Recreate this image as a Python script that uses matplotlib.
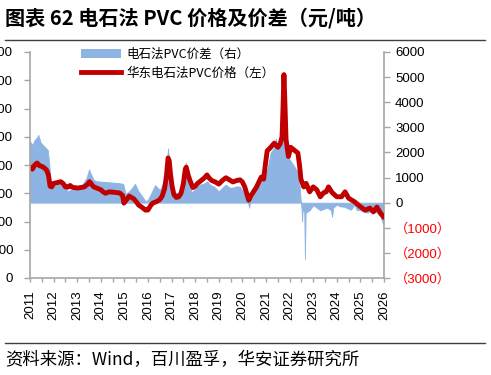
import matplotlib
matplotlib.use("Agg")
import matplotlib.pyplot as plt
from matplotlib.patches import Patch
from matplotlib.lines import Line2D
from matplotlib.ticker import FixedLocator, MultipleLocator

plt.rcParams['font.family'] = ['Liberation Sans', 'Noto Sans CJK SC', 'DejaVu Sans']

# ---- data ----
price_dates = [2011.00, 2011.10, 2011.20, 2011.30, 2011.40, 2011.50, 2011.60, 2011.70, 2011.78, 2011.85,
               2011.92, 2012.00, 2012.15, 2012.30, 2012.40, 2012.50, 2012.60, 2012.70, 2012.80, 2013.00,
               2013.15, 2013.30, 2013.45, 2013.52, 2013.60, 2013.70, 2013.85, 2014.00, 2014.10, 2014.20,
               2014.35, 2014.50, 2014.65, 2014.80, 2014.92, 2014.98, 2015.05, 2015.20, 2015.30, 2015.40,
               2015.50, 2015.60, 2015.75, 2015.90, 2016.00, 2016.10, 2016.20, 2016.35, 2016.50, 2016.60,
               2016.70, 2016.78, 2016.85, 2016.90, 2016.95, 2017.02, 2017.10, 2017.20, 2017.30, 2017.40,
               2017.50, 2017.58, 2017.62, 2017.70, 2017.78, 2017.90, 2018.00, 2018.10, 2018.25, 2018.40,
               2018.50, 2018.58, 2018.70, 2018.85, 2019.00, 2019.15, 2019.30, 2019.45, 2019.60, 2019.75,
               2019.90, 2020.00, 2020.10, 2020.20, 2020.27, 2020.35, 2020.45, 2020.60, 2020.70, 2020.80,
               2020.90, 2020.97, 2021.05, 2021.20, 2021.35, 2021.50, 2021.60, 2021.68, 2021.72, 2021.76,
               2021.80, 2021.85, 2021.95, 2022.05, 2022.20, 2022.35, 2022.42, 2022.48, 2022.60, 2022.70,
               2022.85, 2023.00, 2023.15, 2023.30, 2023.45, 2023.55, 2023.65, 2023.80, 2024.00, 2024.20,
               2024.35, 2024.50, 2024.75, 2025.00, 2025.20, 2025.40, 2025.55, 2025.70, 2025.85, 2025.97]
price = [7860, 7700, 8000, 8140, 7950, 7900, 7800, 7650, 7300, 6500,
         6450, 6700, 6750, 6820, 6700, 6450, 6430, 6550, 6420, 6370,
         6400, 6450, 6650, 6820, 6650, 6450, 6350, 6250, 6100, 6000,
         6100, 6080, 6050, 6020, 5850, 5300, 5450, 5800, 5700, 5600,
         5400, 5170, 5000, 4800, 4820, 5100, 5300, 5400, 5550, 5800,
         6300, 7200, 8500, 8300, 7400, 6500, 5900, 5700, 5750, 6000,
         6700, 7700, 7850, 7300, 6900, 6400, 6500, 6700, 6900, 7100,
         7300, 7100, 6900, 6800, 6650, 6900, 7100, 6950, 6800, 6900,
         6950, 6800, 6450, 5900, 5500, 5800, 6050, 6450, 6800, 7150,
         7000, 8000, 9000, 9250, 9550, 9250, 9500, 10000, 12000, 14400,
         12500, 9800, 8600, 9250, 9050, 8850, 8000, 7000, 6450, 6700,
         6100, 6450, 6250, 5750, 6050, 6100, 6450, 6050, 5750, 5750,
         6100, 5650, 5400, 5050, 4800, 4950, 4680, 5020, 4600, 4350]

spread_dates = [2011.00, 2011.10, 2011.20, 2011.30, 2011.35, 2011.45, 2011.60, 2011.75, 2011.82, 2011.88,
                2012.00, 2012.20, 2012.40, 2012.60, 2012.80, 2013.00, 2013.20, 2013.40, 2013.50, 2013.60,
                2013.70, 2013.85, 2014.00, 2014.25, 2014.50, 2014.75, 2014.95, 2015.05, 2015.25, 2015.45,
                2015.60, 2015.72, 2015.90, 2016.00, 2016.15, 2016.30, 2016.50, 2016.65, 2016.75, 2016.85,
                2016.92, 2017.00, 2017.08, 2017.15, 2017.30, 2017.45, 2017.60, 2017.70, 2017.85, 2018.00,
                2018.20, 2018.35, 2018.50, 2018.65, 2018.80, 2019.00, 2019.15, 2019.30, 2019.45, 2019.60,
                2019.75, 2019.90, 2020.05, 2020.20, 2020.28, 2020.38, 2020.50, 2020.65, 2020.80, 2020.95,
                2021.05, 2021.20, 2021.35, 2021.42, 2021.50, 2021.60, 2021.68, 2021.72, 2021.76, 2021.80,
                2021.88, 2022.00, 2022.20, 2022.35, 2022.43, 2022.47, 2022.51, 2022.53, 2022.55, 2022.62,
                2022.65, 2022.68, 2022.85, 2023.00, 2023.15, 2023.30, 2023.45, 2023.60, 2023.75, 2023.80,
                2023.85, 2024.00, 2024.15, 2024.30, 2024.45, 2024.60, 2024.75, 2024.85, 2025.00, 2025.15,
                2025.30, 2025.50, 2025.70, 2025.85, 2025.97]
spread = [2440, 2300, 2500, 2600, 2700, 2400, 2240, 2100, 1500, 750,
          800, 800, 700, 450, 550, 600, 700, 1000, 1320, 1100,
          900, 850, 840, 820, 800, 780, 750, 350, 500, 750,
          450, 300, 50, 120, 400, 700, 500, 800, 1100, 2160,
          1300, 500, 150, 400, 400, 700, 1600, 900, 400, 550,
          720, 750, 850, 700, 640, 450, 600, 720, 600, 600,
          650, 640, 400, 250, -200, 200, 520, 700, 1050, 1200,
          1300, 2000, 2200, 2550, 2200, 2400, 2600, 3500, 4800, 3200,
          2000, 1720, 1440, 1200, 600, 120, -280, -760, -300, -350,
          -2250, -400, -300, -100, -200, -300, -250, -200, -300, -560,
          -200, -80, -150, -160, -220, -280, -80, -300, -300, -360,
          -400, -280, -400, -550, -880]

years = list(range(2011, 2027))
year_labels = [str(y) for y in years]
left_ticks = list(range(0, 16001, 2000))
right_ticks = list(range(-3000, 6001, 1000))

BLUE = '#8db4e2'
RED = '#c00000'
AXC = '#a6a6a6'

fig = plt.figure(figsize=(4.91, 3.75), dpi=100)
W, H = 491, 375
ax = fig.add_axes([30 / W, 1 - 278 / H, (384 - 30) / W, (278 - 52) / H])
ax2 = ax.twinx()

ax2.fill_between(spread_dates, 0, spread, color=BLUE, lw=0.6, edgecolor=BLUE)
ax.plot(price_dates, price, color=RED, lw=3.5, solid_joinstyle='round')

ax.set_zorder(ax2.get_zorder() + 1)
ax.patch.set_visible(False)

ax.set_xlim(2011, 2026)
ax.set_ylim(0, 16000)
ax2.set_ylim(-3000, 6000)

ax.xaxis.set_major_locator(FixedLocator(years))
ax.set_xticklabels(year_labels, rotation=90, fontsize=9.5)
ax.xaxis.set_minor_locator(MultipleLocator(0.5))
ax.set_yticks(left_ticks)
ax.set_yticklabels([str(v) for v in left_ticks], fontsize=9.5)
ax2.set_yticks(right_ticks)
rlabels = []
for v in right_ticks:
    rlabels.append('（%d）' % (-v) if v < 0 else str(v))
ax2.set_yticklabels(rlabels, fontsize=9.5)
for lab, v in zip(ax2.get_yticklabels(), right_ticks):
    lab.set_color('#ff0000' if v < 0 else 'black')
    lab.set_family(['Liberation Sans', 'Noto Sans CJK SC'])

for a in (ax, ax2):
    for s in a.spines.values():
        s.set_visible(False)
ax.spines['left'].set_visible(True)
ax.spines['bottom'].set_visible(True)
ax2.spines['right'].set_visible(True)
for s in (ax.spines['left'], ax.spines['bottom'], ax2.spines['right']):
    s.set_color(AXC)
    s.set_linewidth(1.2)

ax.tick_params(axis='x', which='both', direction='out', length=3, width=1, color=AXC, pad=6)
ax.tick_params(axis='y', direction='out', length=4, width=1, color=AXC, pad=8)
ax2.tick_params(axis='y', direction='out', length=4, width=1, color=AXC, pad=4)

handles = [Patch(facecolor=BLUE, edgecolor='none'), Line2D([], [], color=RED, lw=3.5)]
labels = ['电石法PVC价差（右）', '华东电石法PVC价格（左）']
leg = ax.legend(handles, labels, loc='upper left', bbox_to_anchor=(0.13, 1.04), frameon=False,
                prop={'family': ['Noto Sans CJK SC'], 'size': 9}, handlelength=3.2,
                handletextpad=0.4, labelspacing=0.45, borderaxespad=0)

fig.text(5 / W, 1 - 18 / H, '图表 62 电石法 PVC 价格及价差（元/吨）', fontsize=14.5,
         fontweight='bold', family=['Noto Sans CJK SC'], va='center', ha='left')
fig.add_artist(Line2D([5 / W, 485 / W], [1 - 40 / H, 1 - 40 / H], color='#404040', lw=1))
fig.add_artist(Line2D([5 / W, 485 / W], [1 - 343 / H, 1 - 343 / H], color='#404040', lw=1))
fig.text(5 / W, 1 - 360 / H, '资料来源：Wind，百川盈孚，华安证券研究所', fontsize=12.5,
         family=['Noto Sans CJK SC'], va='center', ha='left')

fig.savefig('out.png', dpi=100)
